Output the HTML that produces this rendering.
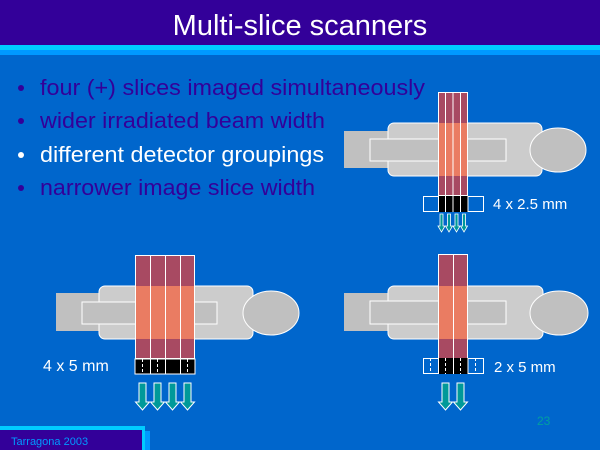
<!DOCTYPE html>
<html><head><style>
html,body{margin:0;padding:0;background:#0066cc;}
svg{display:block;font-family:"Liberation Sans",Arial,sans-serif;}
</style></head><body>
<svg width="600" height="450" viewBox="0 0 600 450" xmlns="http://www.w3.org/2000/svg">
<defs>
<g id="arrow"><path d="M2,0 H5 V12 H7 L3.5,18 L0,12 H2 Z" fill="#009999" stroke="#fff" stroke-width="0.8"/></g>
<g id="arrowL"><path d="M4,0 H11 V19 H14.5 L7.5,27 L0.5,19 H4 Z" fill="#009999" stroke="#fff" stroke-width="1"/></g>
</defs>
<rect width="600" height="450" fill="#0066cc"/>
<rect width="600" height="45" fill="#330099"/>
<rect y="45" width="600" height="5" fill="#00ccff"/>
<rect y="50" width="600" height="5" fill="#0099ff"/>
<text x="300" y="35" font-size="29" fill="#fff" text-anchor="middle">Multi-slice scanners</text>

<g font-size="22">
<circle cx="21" cy="88" r="3" fill="#330099"/>
<text x="40" y="95" fill="#330099" textLength="385" lengthAdjust="spacingAndGlyphs">four (+) slices imaged simultaneously</text>
<circle cx="21" cy="121" r="3" fill="#330099"/>
<text x="40" y="128" fill="#330099" textLength="285" lengthAdjust="spacingAndGlyphs">wider irradiated beam width</text>
<circle cx="21" cy="155" r="3" fill="#fff"/>
<text x="40" y="162" fill="#fff" textLength="284" lengthAdjust="spacingAndGlyphs">different detector groupings</text>
<circle cx="21" cy="188" r="3" fill="#330099"/>
<text x="40" y="195" fill="#330099" textLength="275" lengthAdjust="spacingAndGlyphs">narrower image slice width</text>
</g>

<!-- Scanner top-right -->
<rect x="344" y="131" width="46" height="37" fill="#c0c0c0"/>
<rect x="388" y="123" width="154" height="53" rx="6" fill="#cccccc" stroke="#fff" stroke-width="1"/>
<rect x="370" y="139" width="136" height="22" fill="#c0c0c0" stroke="#fff" stroke-width="1"/>
<ellipse cx="558" cy="150" rx="28" ry="22" fill="#c0c0c0" stroke="#fff" stroke-width="1"/>
<rect x="438" y="92" width="30" height="103" fill="#a84a62"/>
<rect x="438" y="123" width="30" height="53" fill="#ea7c62"/>
<g fill="none" stroke="#fff" stroke-width="1">
<rect x="438.5" y="92.5" width="7" height="103"/><rect x="445.5" y="92.5" width="7.5" height="103"/><rect x="453" y="92.5" width="7.5" height="103"/><rect x="460.5" y="92.5" width="7" height="103"/>
</g>
<rect x="423.5" y="196.5" width="60" height="15" fill="none" stroke="#fff"/>
<rect x="438" y="196" width="30" height="16" fill="#000"/>
<g stroke="#fff"><line x1="438.5" y1="196" x2="438.5" y2="212"/><line x1="445.5" y1="196" x2="445.5" y2="212"/><line x1="453" y1="196" x2="453" y2="212"/><line x1="460.5" y1="196" x2="460.5" y2="212"/><line x1="468" y1="196" x2="468" y2="212"/></g>
<use href="#arrow" x="438" y="214"/><use href="#arrow" x="445.5" y="214"/><use href="#arrow" x="453" y="214"/><use href="#arrow" x="460.5" y="214"/>
<text x="493" y="209" font-size="15" fill="#fff">4 x 2.5 mm</text>

<!-- Scanner bottom-left -->
<rect x="56" y="293" width="46" height="38" fill="#c0c0c0"/>
<rect x="99" y="286" width="154" height="53" rx="6" fill="#cccccc" stroke="#fff"/>
<rect x="82" y="302" width="135" height="22" fill="#c0c0c0" stroke="#fff"/>
<ellipse cx="271" cy="313" rx="28" ry="22" fill="#c0c0c0" stroke="#fff"/>
<rect x="135" y="255" width="60" height="103" fill="#a84a62"/>
<rect x="135" y="286" width="60" height="53" fill="#ea7c62"/>
<g fill="none" stroke="#fff"><rect x="135.5" y="255.5" width="15" height="103"/><rect x="150.5" y="255.5" width="15" height="103"/><rect x="165.5" y="255.5" width="15" height="103"/><rect x="180.5" y="255.5" width="14" height="103"/></g>
<rect x="135" y="359" width="60" height="15" fill="#000" stroke="#fff"/>
<g stroke="#fff" stroke-dasharray="3,2"><line x1="142.5" y1="359" x2="142.5" y2="374"/><line x1="157.5" y1="359" x2="157.5" y2="374"/><line x1="187.5" y1="359" x2="187.5" y2="374"/></g>
<g stroke="#fff"><line x1="150.5" y1="359" x2="150.5" y2="374"/><line x1="165.5" y1="359" x2="165.5" y2="374"/><line x1="180.5" y1="359" x2="180.5" y2="374"/></g>
<use href="#arrowL" x="135" y="383"/><use href="#arrowL" x="150" y="383"/><use href="#arrowL" x="165" y="383"/><use href="#arrowL" x="180" y="383"/>
<text x="43" y="371" font-size="16" fill="#fff">4 x 5 mm</text>

<!-- Scanner bottom-right -->
<rect x="344" y="293" width="46" height="38" fill="#c0c0c0"/>
<rect x="388" y="286" width="155" height="53" rx="6" fill="#cccccc" stroke="#fff"/>
<rect x="370" y="301" width="136" height="23" fill="#c0c0c0" stroke="#fff"/>
<ellipse cx="559" cy="313" rx="29" ry="22" fill="#c0c0c0" stroke="#fff"/>
<rect x="438" y="254" width="30" height="104" fill="#a84a62"/>
<rect x="438" y="286" width="30" height="53" fill="#ea7c62"/>
<g fill="none" stroke="#fff"><rect x="438.5" y="254.5" width="15" height="104"/><rect x="453.5" y="254.5" width="14" height="104"/></g>
<rect x="423.5" y="358.5" width="60" height="15" fill="none" stroke="#fff"/>
<rect x="438" y="358" width="30" height="16" fill="#000"/>
<g stroke="#fff"><line x1="438.5" y1="358" x2="438.5" y2="374"/><line x1="453.5" y1="358" x2="453.5" y2="374"/><line x1="468" y1="358" x2="468" y2="374"/></g>
<g stroke="#fff" stroke-dasharray="3,2"><line x1="430.5" y1="358" x2="430.5" y2="374"/><line x1="445.5" y1="358" x2="445.5" y2="374"/><line x1="460.5" y1="358" x2="460.5" y2="374"/><line x1="475.5" y1="358" x2="475.5" y2="374"/></g>
<use href="#arrowL" x="438" y="383"/><use href="#arrowL" x="453" y="383"/>
<text x="494" y="372" font-size="15" fill="#fff">2 x 5 mm</text>
<text x="537" y="425" font-size="12" fill="#00a0a0">23</text>

<!-- footer -->
<rect x="0" y="426" width="145" height="4" fill="#00ccff"/>
<rect x="142" y="426" width="3" height="24" fill="#00ccff"/>
<rect x="145" y="431" width="5" height="19" fill="#0099ff"/>
<rect x="0" y="430" width="142" height="20" fill="#330099"/>
<text x="11" y="445" font-size="11" fill="#0099ff">Tarragona 2003</text>
</svg>
</body></html>
